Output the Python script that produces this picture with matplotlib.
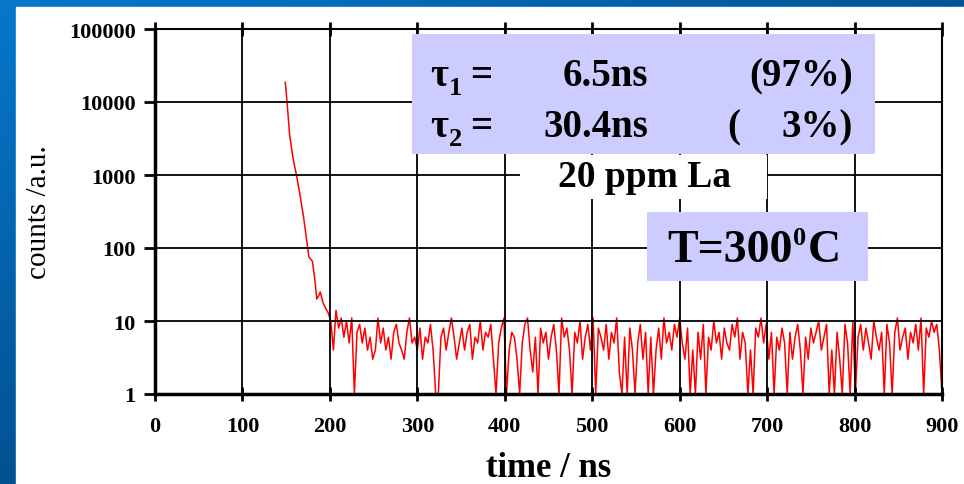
import numpy as np
import matplotlib.pyplot as plt
from matplotlib.patches import Rectangle

W, H = 964, 485

# decay part (ns, counts)
decay_t = [149, 151, 154, 158, 162, 166, 170, 173, 176, 180, 183, 185, 187, 189, 192, 195, 198, 201]
decay_c = [18600, 10000, 3500, 1650, 970, 520, 260, 140, 75, 66, 35, 20, 22, 25, 18, 15, 13, 10]

# noise floor, sampled every 3 ns from 204 to 900
noise_t = np.arange(204, 901, 3)
noise_c = [4, 14, 8, 11, 6, 10, 5, 11, 1, 7,
           9, 5, 8, 4, 6, 3, 4, 11, 5, 8,
           4, 6, 3, 7, 9, 5, 4, 3, 7, 11,
           5, 6, 4, 8, 3, 6, 5, 9, 4, 1,
           1, 6, 8, 4, 7, 11, 6, 3, 5, 8,
           4, 7, 9, 3, 6, 5, 10, 4, 7, 6,
           9, 3, 1, 5, 8, 11, 1, 4, 7, 6,
           3, 1, 5, 9, 11, 4, 2, 6, 1, 8,
           5, 7, 3, 6, 9, 4, 1, 11, 6, 8,
           4, 1, 7, 5, 10, 3, 6, 9, 4, 11,
           1, 8, 6, 4, 9, 3, 7, 5, 11, 2,
           1, 6, 1, 8, 4, 1, 5, 9, 3, 7,
           1, 6, 1, 4, 8, 3, 11, 5, 7, 4,
           9, 6, 11, 5, 3, 8, 1, 4, 1, 7,
           3, 9, 1, 6, 4, 10, 5, 7, 3, 8,
           5, 4, 9, 6, 11, 3, 7, 5, 1, 4,
           1, 8, 6, 11, 5, 9, 3, 7, 1, 6,
           4, 8, 5, 1, 7, 3, 6, 9, 4, 1,
           6, 3, 8, 5, 7, 10, 4, 6, 9, 1,
           4, 1, 7, 3, 1, 9, 5, 1, 10, 1,
           6, 9, 4, 8, 5, 3, 10, 6, 4, 7,
           1, 9, 5, 1, 7, 11, 4, 6, 8, 3,
           7, 5, 9, 4, 11, 1, 8, 6, 10, 7,
           9, 4, 1]

xticks = list(range(0, 901, 100))
yticks = [1, 10, 100, 1000, 10000, 100000]
ytick_labels = ['1', '10', '100', '1000', '10000', '100000']

t = np.concatenate([decay_t, noise_t])
c = np.concatenate([decay_c, noise_c])

serif = 'Liberation Serif'

fig = plt.figure(figsize=(W / 100, H / 100), dpi=100)

# blue frame background
bg = fig.add_axes([0, 0, 1, 1])
gx, gy = np.meshgrid(np.linspace(0, 1, 200), np.linspace(0, 1, 100))
s = np.clip(0.55 * gx + 0.6 * gy, 0, 1)
top = np.array([0.02, 0.47, 0.80])
bot = np.array([0.0, 0.22, 0.42])
img = top[None, None, :] * (1 - s[..., None]) + bot[None, None, :] * s[..., None]
bg.imshow(img, extent=[0, 1, 0, 1], aspect='auto', origin='upper')
bg.add_patch(Rectangle((16 / W, 0), 1, 1 - 8 / H, color='white'))
bg.set_xlim(0, 1)
bg.set_ylim(0, 1)
bg.axis('off')


def px(x, y):
    return x / W, 1 - y / H


ax = fig.add_axes([155 / W, 1 - 395 / H, (942 - 155) / W, (395 - 30) / H])
ax.plot(t, c, color='red', lw=1.1)
ax.set_yscale('log')
ax.set_xlim(0, 900)
ax.set_ylim(1, 100000)
ax.set_xticks(xticks)
ax.set_yticks(yticks)
ax.set_yticklabels(ytick_labels)
ax.minorticks_off()
ax.grid(True, color='black', lw=1.3)
ax.set_axisbelow(False)
for side in ['left', 'bottom']:
    ax.spines[side].set_linewidth(2.5)
for side in ['top', 'right']:
    ax.spines[side].set_linewidth(1.5)
ax.tick_params(axis='y', direction='out', length=8, width=2, pad=6)
ax.tick_params(axis='x', direction='inout', length=10, width=2, pad=11, top=True)
for lab in ax.get_xticklabels() + ax.get_yticklabels():
    lab.set_fontfamily(serif)
    lab.set_fontweight('bold')
    lab.set_fontsize(16)

ax.set_ylabel('counts /a.u.', fontfamily=serif, fontsize=21, labelpad=12)
fig.text(*px(549, 477), 'time / ns', fontfamily=serif, fontweight='bold', fontsize=25,
         ha='center', va='baseline')

# annotation boxes
def box(x0, y0, x1, y1, fc):
    fx0, fy1 = px(x0, y0)
    fx1, fy0 = px(x1, y1)
    fig.patches.append(Rectangle((fx0, fy0), fx1 - fx0, fy1 - fy0, transform=fig.transFigure,
                                 facecolor=fc, edgecolor='none', zorder=5))

box(412, 35, 875, 155, '#ccccff')
box(520, 156, 767, 200, 'white')
box(647, 213, 868, 282, '#ccccff')

kw = dict(fontfamily=serif, fontweight='bold', va='baseline', zorder=6)
renderer = fig.canvas.get_renderer()


def right_px(txt):
    bb = txt.get_window_extent(renderer)
    return bb.x1


big = 28
for y0, sub, val in [(86, '1', '6.5ns'), (137, '2', '30.4ns')]:
    tau = fig.text(*px(430, y0), '\u03c4', fontsize=big, ha='left', **kw)
    sx = right_px(tau) + 1
    fig.text(sx / W, 1 - (y0 + 9) / H, sub, fontsize=19, ha='left', **kw)
    fig.text(*px(470, y0), '=', fontsize=big, ha='left', **kw)
    fig.text(*px(648, y0), val, fontsize=big, ha='right', **kw)

fig.text(*px(853, 86), '(97%)', fontsize=big, ha='right', **kw)
fig.text(*px(727, 137), '(', fontsize=big, ha='left', **kw)
fig.text(*px(853, 137), '3%)', fontsize=big, ha='right', **kw)

fig.text(*px(644, 187), '20 ppm La', fontsize=27, ha='center', **kw)

t1 = fig.text(*px(667, 262), 'T=300', fontsize=33, ha='left', **kw)
x1 = right_px(t1) + 1
t2 = fig.text(x1 / W, 1 - 245 / H, '0', fontsize=19, ha='left', **kw)
x2 = right_px(t2) + 1
fig.text(x2 / W, 1 - 262 / H, 'C', fontsize=33, ha='left', **kw)

fig.savefig('out.png', dpi=100)
